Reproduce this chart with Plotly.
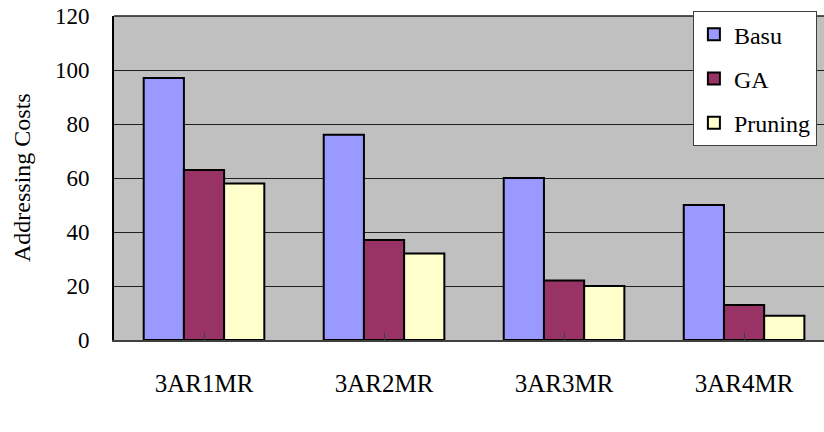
import plotly.graph_objects as go

# Addressing costs per configuration for each method
categories = ["3AR1MR", "3AR2MR", "3AR3MR", "3AR4MR"]
basu = [97, 76, 60, 50]
ga = [63, 37, 22, 13]
pruning = [58, 32, 20, 9]
y_ticks = [0, 20, 40, 60, 80, 100, 120]

FONT = "Liberation Serif"

series = [
    ("Basu", basu, "#9999FF"),
    ("GA", ga, "#993366"),
    ("Pruning", pruning, "#FFFFCC"),
]

fig = go.Figure()
for name, vals, color in series:
    fig.add_trace(go.Bar(
        name=name,
        x=list(range(len(categories))),
        y=vals,
        legendgroup=name,
        marker=dict(color=color, line=dict(color="black", width=2)),
    ))

fig.update_layout(
    width=824, height=432,
    margin=dict(l=114, r=0, t=16, b=92),
    paper_bgcolor="white",
    plot_bgcolor="#C0C0C0",
    barmode="group",
    bargap=0.33,
    bargroupgap=0,
    font=dict(family=FONT, size=22, color="black"),
    showlegend=True,
    legend=dict(
        x=0.99, y=1.015, xanchor="right", yanchor="top",
        bgcolor="white", bordercolor="#404040", borderwidth=1,
        font=dict(family=FONT, size=24),
        traceorder="grouped", tracegroupgap=10,
    ),
    xaxis=dict(
        range=[-0.5, 3.444],
        tickmode="array",
        tickvals=list(range(len(categories))),
        ticktext=categories,
        tickfont=dict(family=FONT, size=25),
        ticks="inside", tickson="boundaries", ticklen=7, tickcolor="#404040",
        showline=True, linecolor="#404040", linewidth=2,
        showgrid=False, zeroline=False,
        ticklabelstandoff=20,
    ),
    yaxis=dict(
        range=[0, 120],
        tickmode="array",
        tickvals=y_ticks,
        tickfont=dict(family=FONT, size=23),
        showline=True, linecolor="black", linewidth=2,
        showgrid=True, gridcolor="#202020", gridwidth=1.3,
        zeroline=False,
        ticks="", ticklabelstandoff=18,
        mirror=False,
    ),
    annotations=[dict(
        text="Addressing Costs",
        xref="paper", yref="paper",
        x=(22 - 114) / 710, y=(340 - 178) / 324,
        xanchor="center", yanchor="middle",
        textangle=-90, showarrow=False,
        font=dict(family=FONT, size=24, color="black"),
    )],
    shapes=[dict(
        type="line", xref="paper", yref="paper",
        x0=0, x1=1, y0=1, y1=1,
        line=dict(color="#202020", width=1.3),
    )],
)

fig.write_html("out.html")
